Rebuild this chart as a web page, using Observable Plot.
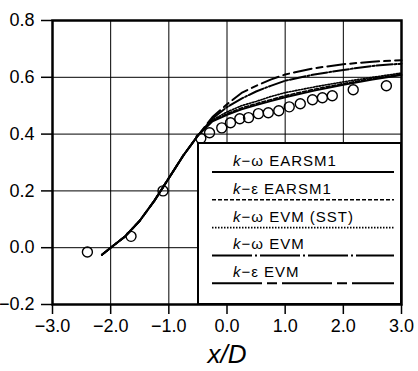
<!DOCTYPE html>
<html><head><meta charset="utf-8">
<script src="https://cdn.jsdelivr.net/npm/d3@7"></script>
<script src="https://cdn.jsdelivr.net/npm/@observablehq/plot@0.6"></script>
<style>body{margin:0;background:#fff} svg{font-family:"Liberation Sans",Arial,sans-serif}</style>
</head><body><div id="chart"></div>
<script>
// ---- data ----
const xModel = [-2.15,-2.0,-1.75,-1.5,-1.25,-1.0,-0.75,-0.5,-0.25,0,0.25,0.5,0.75,1.0,1.5,2.0,2.5,3.0];
const kwEARSM1 = [-0.025,0.0,0.04,0.095,0.165,0.245,0.325,0.395,0.445,0.468,0.487,0.502,0.516,0.53,0.553,0.574,0.592,0.608];
const keEARSM1 = [-0.025,0.0,0.04,0.095,0.165,0.245,0.325,0.395,0.447,0.472,0.492,0.507,0.521,0.535,0.558,0.578,0.596,0.612];
const kwSST    = [-0.025,0.0,0.04,0.095,0.165,0.245,0.325,0.395,0.45,0.478,0.5,0.515,0.532,0.546,0.566,0.584,0.6,0.615];
const kwEVM    = [-0.025,0.0,0.04,0.095,0.165,0.245,0.325,0.395,0.455,0.495,0.525,0.55,0.57,0.588,0.61,0.626,0.64,0.648];
const keEVM    = [-0.025,0.0,0.04,0.095,0.165,0.245,0.325,0.395,0.46,0.505,0.545,0.57,0.592,0.61,0.632,0.646,0.655,0.66];
const xExp = [-2.4,-1.65,-1.1,-0.45,-0.3,-0.09,0.06,0.22,0.37,0.54,0.71,0.89,1.07,1.26,1.47,1.64,1.81,2.17,2.74];
const yExp = [-0.015,0.04,0.2,0.385,0.405,0.422,0.44,0.454,0.458,0.472,0.475,0.482,0.496,0.507,0.521,0.528,0.535,0.556,0.57];
const xTicks = [-3,-2,-1,0,1,2,3];
const yTicks = [-0.2,0,0.2,0.4,0.6,0.8];
const xGrid = [-2,-1,0,1,2];
const yGrid = [0,0.2,0.4,0.6];
const seriesNames = ["EARSM1","EARSM1","EVM (SST)","EVM","EVM"];
const seriesSym = ["ω","ε","ω","ω","ε"];

// ---- styles ----
const styles = [
  {dash:null, width:2},
  {dash:"4,2", width:1.6},
  {dash:"1.5,1.5", width:1.6},
  {dash:"16,2,2,2", width:2},
  {dash:"18,5,6,5", width:2}
];
const legendDash = [null,"4,2","1.5,1.5","40,3,2,3","50,5,10,5"];
const seriesY = [kwEARSM1, keEARSM1, kwSST, kwEVM, keEVM];

const fmt = d => d3.format(".1f")(d).replace("-", "−");

function legend(index, scales, values, dims) {
  const R = dims.width - dims.marginRight;
  const B = dims.height - dims.marginBottom;
  const w = 203, h = 161;
  const g = d3.create("svg:g");
  g.append("rect").attr("x", R - w).attr("y", B - h).attr("width", w).attr("height", h)
    .attr("fill", "#fff").attr("stroke", "#000").attr("stroke-width", 2);
  seriesNames.forEach((name, i) => {
    const ly = B - h + 29 + i * 27.8;
    g.append("line").attr("x1", R - w + 14).attr("x2", R - 7).attr("y1", ly).attr("y2", ly)
      .attr("stroke", "#000").attr("stroke-width", styles[i].width)
      .attr("stroke-dasharray", legendDash[i]);
    const t = g.append("text").attr("x", R - w + 35).attr("y", ly - 6)
      .attr("text-anchor", "start")
      .attr("font-size", 15).attr("letter-spacing", 1).attr("fill", "#000");
    t.append("tspan").attr("font-style", "italic").text("k");
    t.append("tspan").text("−" + seriesSym[i] + " " + name);
  });
  return g.node();
}

const lineMarks = seriesY.map((ys, i) =>
  Plot.line(xModel, {x: d => d, y: (d, j) => ys[j], stroke: "#000",
    strokeWidth: styles[i].width, strokeDasharray: styles[i].dash}));

const chart = Plot.plot({
  width: 418, height: 371,
  marginLeft: 52, marginRight: 17, marginTop: 20, marginBottom: 67,
  style: {fontFamily: '"Liberation Sans", Arial, sans-serif', color: "#000"},
  x: {domain: [-3, 3]},
  y: {domain: [-0.2, 0.8]},
  marks: [
    Plot.gridX(xGrid, {stroke: "#000", strokeOpacity: 1, strokeWidth: 1}),
    Plot.gridY(yGrid, {stroke: "#000", strokeOpacity: 1, strokeWidth: 1}),
    Plot.axisX(xTicks, {tickSize: 10, tickPadding: 5, fontSize: 18, tickFormat: fmt, label: null, strokeWidth: 1.5}),
    Plot.axisY(yTicks, {tickSize: 11, tickPadding: 7, fontSize: 18, tickFormat: fmt, label: null, strokeWidth: 1.5}),
    ...lineMarks,
    Plot.dot(xExp, {x: d => d, y: (d, j) => yExp[j], r: 5, stroke: "#000", strokeWidth: 1.4, fill: "none"}),
    legend,
    Plot.frame({stroke: "#000", strokeWidth: 2.5}),
    Plot.text(["x/D"], {frameAnchor: "bottom", dy: 58, fontSize: 26, fontStyle: "italic", text: d => d})
  ]
});
document.getElementById("chart").append(chart);
</script>
</body></html>
